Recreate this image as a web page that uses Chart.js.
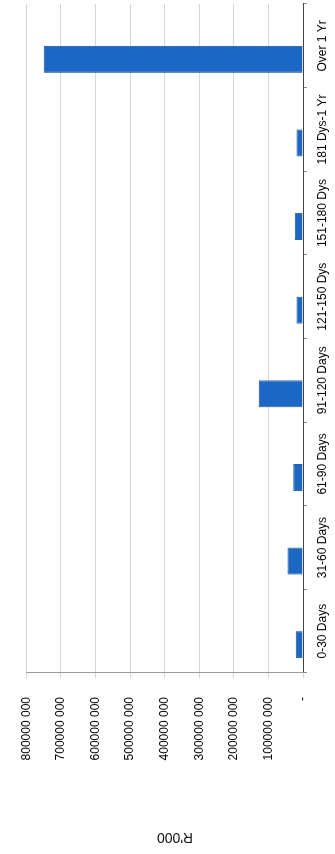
<!DOCTYPE html>
<html>
<head>
<meta charset="utf-8">
<title>Debtors age analysis</title>
<script src="https://cdn.jsdelivr.net/npm/chart.js@4/dist/chart.umd.min.js"></script>
<style>
  html, body { margin: 0; padding: 0; background: #fff; overflow: hidden; }
  /* chart is laid out landscape and turned a quarter turn to the left */
  #wrap {
    position: absolute; left: 0; top: 0;
    width: 854px; height: 335px;
    transform-origin: 0 0;
    transform: translateY(854px) rotate(-90deg);
  }
</style>
</head>
<body>
<div id="wrap"><canvas id="chart" width="854" height="335"></canvas></div>
<script>
const ageBands = ["0-30 Days", "31-60 Days", "61-90 Days", "91-120 Days",
                  "121-150 Dys", "151-180 Dys", "181 Dys-1 Yr", "Over 1 Yr"];
const amounts = [21000000, 45000000, 28000000, 128000000,
                 19000000, 24000000, 19000000, 749000000];
const spareSeries = [0, 0, 0, 0, 0, 0, 0, 0];
const valueTicks = ["-", "100000 000", "200000 000", "300000 000", "400000 000",
                    "500000 000", "600000 000", "700000 000", "800000 000"];
const unitLabel = "R'000";

const FONT = "'Liberation Sans', Arial, sans-serif";

// unit caption beside the value axis
const unitTitle = {
  id: "unitTitle",
  afterDraw(chart) {
    const ctx = chart.ctx;
    ctx.save();
    ctx.translate(17, 175);
    ctx.rotate(-Math.PI / 2);
    ctx.font = "14px " + FONT;
    ctx.fillStyle = "#111";
    ctx.textAlign = "center";
    ctx.textBaseline = "middle";
    ctx.fillText(unitLabel, 0, 0);
    ctx.restore();
  }
};

new Chart(document.getElementById("chart"), {
  type: "bar",
  data: {
    labels: ageBands,
    datasets: [
      { data: amounts, backgroundColor: "#1c66c4", borderColor: "#16559f", borderWidth: 1 },
      { data: spareSeries, backgroundColor: "#1c66c4", borderWidth: 0 }
    ]
  },
  options: {
    responsive: false,
    animation: false,
    devicePixelRatio: 1,
    categoryPercentage: 0.646,
    barPercentage: 1,
    layout: { padding: { left: 0, right: 4, top: 15, bottom: 0 } },
    plugins: { legend: { display: false }, tooltip: { enabled: false } },
    scales: {
      x: {
        grid: { offset: true, drawOnChartArea: false, tickLength: 4, color: "#888" },
        border: { color: "#444", width: 1 },
        ticks: { color: "#000", padding: 8, maxRotation: 0, font: { family: FONT, size: 12 } },
        afterFit(scale) { scale.height = 32; }
      },
      y: {
        min: 0,
        max: 800000000,
        grid: { color: "#d6d6d6", tickLength: 5 },
        border: { color: "#9a9a9a", width: 1 },
        ticks: {
          stepSize: 100000000,
          color: "#000",
          padding: 19,
          font: { family: FONT, size: 12 },
          callback: (v, i) => valueTicks[i]
        },
        afterFit(scale) { scale.width = 181; }
      }
    }
  },
  plugins: [unitTitle]
});
</script>
</body>
</html>
